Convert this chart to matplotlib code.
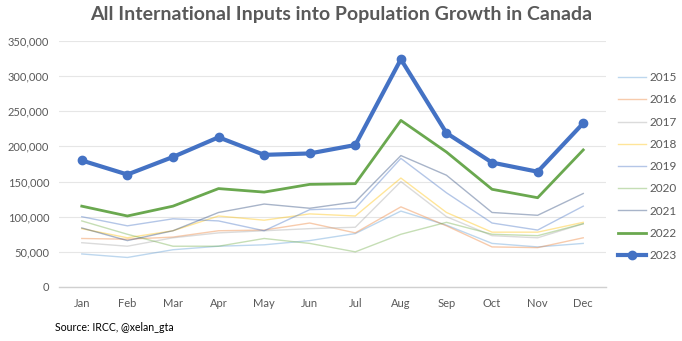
import matplotlib
matplotlib.use("Agg")
import matplotlib.pyplot as plt
from matplotlib.ticker import FuncFormatter

plt.rcParams['font.family'] = ['Lato', 'DejaVu Sans']

months = ["Jan", "Feb", "Mar", "Apr", "May", "Jun",
          "Jul", "Aug", "Sep", "Oct", "Nov", "Dec"]

y2015 = [47000, 42000, 53000, 58000, 60000, 66000, 76000, 108000, 88000, 62000, 57000, 62000]
y2016 = [69000, 68000, 71000, 80000, 81000, 91000, 77000, 114000, 87000, 57000, 56000, 70000]
y2017 = [63000, 58000, 70000, 77000, 80000, 83000, 85000, 150000, 100000, 73000, 70000, 90000]
y2018 = [83000, 70000, 80000, 101000, 95000, 104000, 101000, 155000, 106000, 78000, 78000, 92000]
y2019 = [100000, 87000, 97000, 94000, 80000, 110000, 112000, 183000, 134000, 91000, 81000, 115000]
y2020 = [94000, 75000, 58000, 58000, 69000, 62000, 50000, 75000, 92000, 75000, 73000, 90000]
y2021 = [84000, 66000, 80000, 106000, 118000, 112000, 121000, 187000, 159000, 106000, 102000, 133000]
y2022 = [115000, 101000, 115000, 140000, 135000, 146000, 147000, 237000, 192000, 139000, 127000, 195000]
y2023 = [180000, 160000, 185000, 213000, 188000, 190000, 202000, 324000, 219000, 177000, 164000, 233000]

faint = [
    ("2015", y2015, "#5B9BD5"),
    ("2016", y2016, "#ED7D31"),
    ("2017", y2017, "#A5A5A5"),
    ("2018", y2018, "#FFC000"),
    ("2019", y2019, "#4472C4"),
    ("2020", y2020, "#70AD47"),
    ("2021", y2021, "#264478"),
]

fig = plt.figure(figsize=(6.82, 3.41), dpi=100)
ax = fig.add_axes([0.0865, 0.1584, 0.8021, 0.7214])

x = list(range(len(months)))
for label, vals, col in faint:
    ax.plot(x, vals, color=col, alpha=0.4, lw=1.0, label=label)
ax.plot(x, y2022, color="#6AA84F", lw=2.0, label="2022")
ax.plot(x, y2023, color="#4472C4", lw=3.0, marker="o", markersize=6, label="2023")

ax.set_xlim(-0.5, 11.5)
ax.set_ylim(0, 350000)
ax.set_yticks(range(0, 350001, 50000))
ax.yaxis.set_major_formatter(FuncFormatter(lambda v, p: f"{int(v):,}"))
ax.set_xticks(x)
ax.set_xticklabels(months)

ax.grid(axis="y", color="#E6E6E6", lw=0.8)
ax.set_axisbelow(True)
for s in ["top", "right", "left"]:
    ax.spines[s].set_visible(False)
ax.spines["bottom"].set_color("#D0D0D0")
ax.spines["bottom"].set_linewidth(1.0)
ax.tick_params(axis="both", length=0, colors="#595959", labelsize=8)
ax.tick_params(axis="x", pad=8)
ax.tick_params(axis="y", pad=7)

leg = ax.legend(loc="upper left", bbox_to_anchor=(1.013, 0.892), frameon=False,
                fontsize=8.5, handlelength=2.4, handletextpad=0.25,
                labelspacing=0.95, borderaxespad=0)
for t in leg.get_texts():
    t.set_color("#595959")

fig.text(0.5, 0.957, "All International Inputs into Population Growth in Canada",
         ha="center", va="center", fontsize=14, fontweight="bold", color="#595959")
fig.text(0.081, 0.04, "Source: IRCC, @xelan_gta", ha="left", va="center",
         fontsize=7.6, color="#000000")

fig.savefig("out.png", dpi=100)
